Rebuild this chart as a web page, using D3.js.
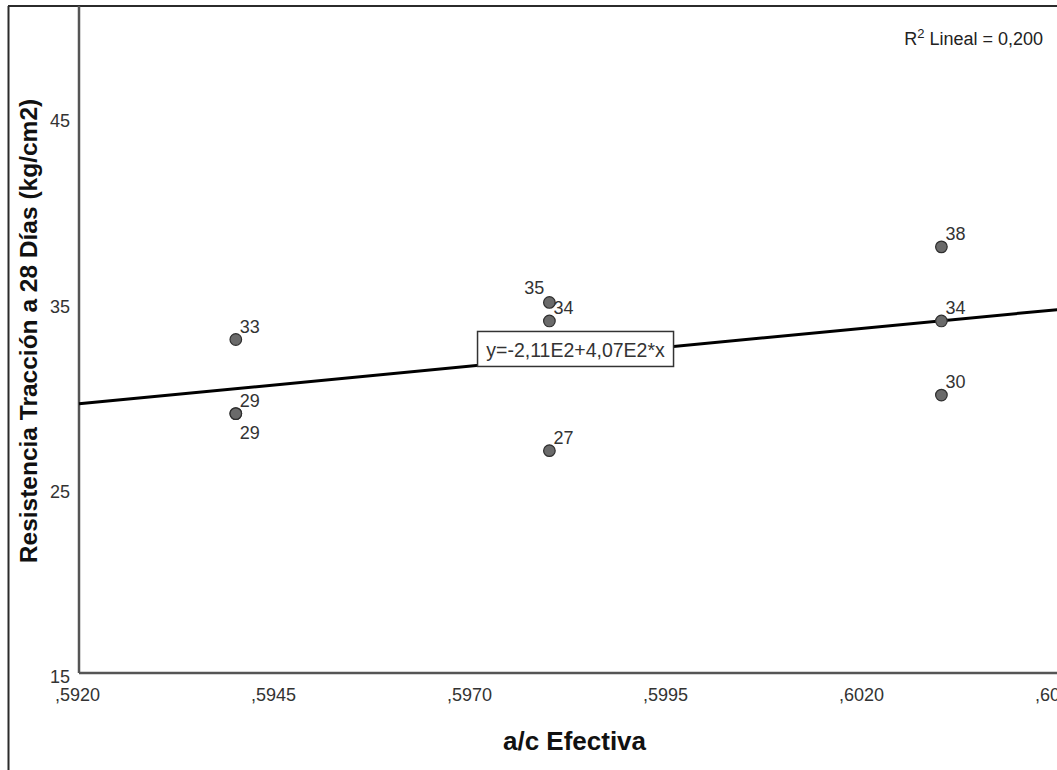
<!DOCTYPE html>
<html>
<head>
    <meta charset="utf-8">
    <script src="https://d3js.org/d3.v7.min.js"></script>
    <style>
        body { margin: 0; background: #fff; }
        text { font-family: "Liberation Sans", Arial, sans-serif; }
    </style>
</head>
<body>
<script>
// a/c efectiva vs resistencia a traccion (28 dias)
var acEfectiva = [0.594, 0.594, 0.594, 0.598, 0.598, 0.598, 0.603, 0.603, 0.603];
var resistencia = [33, 29, 29, 35, 34, 27, 38, 34, 30];
// where each point label sits: ur = upper right, lr = lower right, ul = upper left
var labelSide = ["ur", "ur", "lr", "ul", "ur", "ur", "ur", "ur", "ur"];

var xTicks = [0.5920, 0.5945, 0.5970, 0.5995, 0.6020, 0.6045];
var yTicks = [15, 25, 35, 45];
var rSquaredText = "0,200";
var eqText = "y=-2,11E2+4,07E2*x";

var W = 1057, H = 770;
var plot = {left: 79, top: 6, right: 1070, bottom: 673};

var svg = d3.select("body").append("svg")
    .attr("width", W)
    .attr("height", H);

var x = d3.scaleLinear()
    .domain([0.5920, 0.6045])
    .range([plot.left, plot.left + 980]);

var y = d3.scaleLinear()
    .domain([15, 51])
    .range([plot.bottom, plot.top]);

// least squares fit
var n = acEfectiva.length;
var mx = d3.mean(acEfectiva), my = d3.mean(resistencia);
var sxy = 0, sxx = 0;
for (var i = 0; i < n; i++) {
    sxy += (acEfectiva[i] - mx) * (resistencia[i] - my);
    sxx += (acEfectiva[i] - mx) * (acEfectiva[i] - mx);
}
var slope = sxy / sxx;
var intercept = my - slope * mx;

// outer frame
svg.append("line")
    .attr("x1", 8).attr("x2", W + 10).attr("y1", 6).attr("y2", 6)
    .attr("stroke", "#2b2b2b").attr("stroke-width", 2);
svg.append("line")
    .attr("x1", 8.5).attr("x2", 8.5).attr("y1", 6).attr("y2", H)
    .attr("stroke", "#2b2b2b").attr("stroke-width", 2);

// axes lines
svg.append("line")
    .attr("x1", plot.left).attr("x2", plot.left)
    .attr("y1", plot.top).attr("y2", plot.bottom)
    .attr("stroke", "#555").attr("stroke-width", 2.5);
svg.append("line")
    .attr("x1", plot.left).attr("x2", plot.right)
    .attr("y1", plot.bottom).attr("y2", plot.bottom)
    .attr("stroke", "#555").attr("stroke-width", 2.5);

var fmtX = function (d) { return d3.format(".4f")(d).replace("0.", ","); };

var yAxis = d3.axisLeft(y).tickValues(yTicks).tickSize(0).tickPadding(9);
var gy = svg.append("g")
    .attr("transform", "translate(" + plot.left + ",0)")
    .call(yAxis);
gy.select(".domain").remove();
gy.selectAll("text")
    .attr("font-size", 18)
    .attr("font-family", "Liberation Sans, Arial, sans-serif")
    .attr("fill", "#333")
    .attr("transform", "translate(0,4)");

var xAxis = d3.axisBottom(x).tickValues(xTicks).tickFormat(fmtX).tickSize(0).tickPadding(15);
var gx = svg.append("g")
    .attr("transform", "translate(-2," + plot.bottom + ")")
    .call(xAxis);
gx.select(".domain").remove();
gx.selectAll("text")
    .attr("font-size", 18)
    .attr("font-family", "Liberation Sans, Arial, sans-serif")
    .attr("fill", "#333");

// fit line
var fitLine = d3.line()
    .x(function (d) { return x(d); })
    .y(function (d) { return y(intercept + slope * d); });
svg.append("path")
    .attr("d", fitLine(x.domain()))
    .attr("stroke", "#000")
    .attr("stroke-width", 3)
    .attr("fill", "none");

// points
svg.selectAll("circle.pt")
    .data(acEfectiva)
    .enter().append("circle")
    .attr("class", "pt")
    .attr("cx", function (d) { return x(d); })
    .attr("cy", function (d, i) { return y(resistencia[i]); })
    .attr("r", 5.8)
    .attr("fill", "#6a6a6a")
    .attr("stroke", "#2e2e2e")
    .attr("stroke-width", 1.2);

// point labels
svg.selectAll("text.lbl")
    .data(acEfectiva)
    .enter().append("text")
    .attr("class", "lbl")
    .attr("x", function (d, i) {
        return labelSide[i] == "ul" ? x(d) - 5 : x(d) + 4;
    })
    .attr("y", function (d, i) {
        var py = y(resistencia[i]);
        if (labelSide[i] == "lr") return py + 25;
        if (labelSide[i] == "ul") return py - 8;
        return py - 7;
    })
    .attr("text-anchor", function (d, i) { return labelSide[i] == "ul" ? "end" : "start"; })
    .attr("font-size", 18)
    .attr("fill", "#333")
    .text(function (d, i) { return resistencia[i]; });

// equation box
var eqX = x(mx), eqY = y(my) - 7;
var eq = svg.append("g").attr("transform", "translate(" + eqX + "," + eqY + ")");
eq.append("rect")
    .attr("x", -98).attr("y", -17.5)
    .attr("width", 196).attr("height", 35)
    .attr("fill", "#fff")
    .attr("stroke", "#333")
    .attr("stroke-width", 1.5);
eq.append("text")
    .attr("x", 0).attr("y", 8.5)
    .attr("text-anchor", "middle")
    .attr("font-size", 19.5)
    .attr("fill", "#333")
    .text(eqText);

// R2 note
var r2 = svg.append("text")
    .attr("x", 1043).attr("y", 45)
    .attr("text-anchor", "end")
    .attr("font-size", 18)
    .attr("fill", "#222");
r2.append("tspan").text("R");
r2.append("tspan").attr("font-size", 13).attr("dy", -7).text("2");
r2.append("tspan").attr("dy", 7).text(" Lineal = " + rSquaredText);

// axis titles
svg.append("text")
    .attr("x", (plot.left + plot.right) / 2)
    .attr("y", 750)
    .attr("text-anchor", "middle")
    .attr("font-size", 26)
    .attr("font-weight", "bold")
    .attr("fill", "#111")
    .text("a/c Efectiva");

svg.append("text")
    .attr("transform", "translate(37,331) rotate(-90)")
    .attr("text-anchor", "middle")
    .attr("font-size", 24.5)
    .attr("font-weight", "bold")
    .attr("fill", "#111")
    .text("Resistencia Tracción a 28 Días (kg/cm2)");
</script>
</body>
</html>
